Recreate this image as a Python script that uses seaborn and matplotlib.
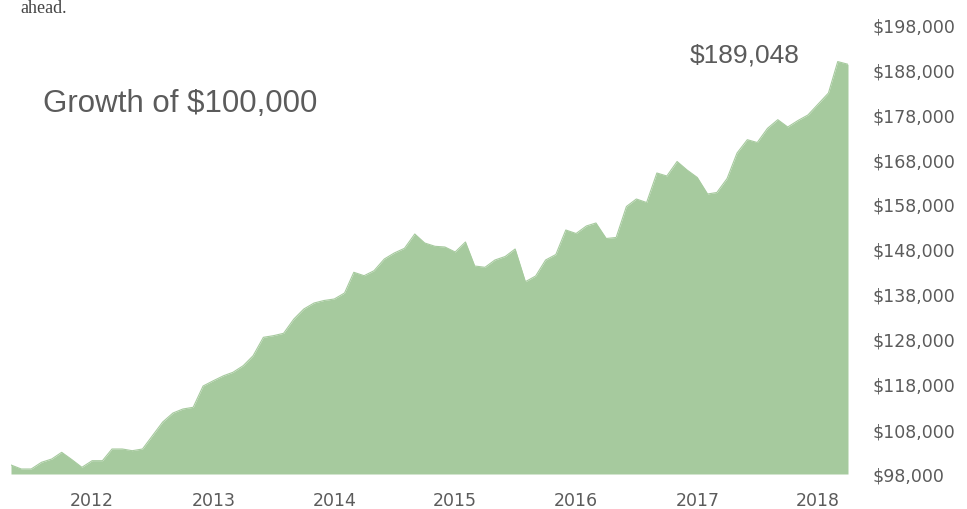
import matplotlib
matplotlib.use("Agg")
import matplotlib.pyplot as plt
import matplotlib.ticker as mticker
import pandas as pd
import seaborn as sns

# Month-end portfolio value of a $100,000 investment, May 2011 - Apr 2018
start_month = "2011-05-01"
portfolio_values = [
    100000, 99111, 99111, 100600, 101333, 102822, 101178, 99489, 100956, 100956,
    103556, 103556, 103178, 103556, 106511, 109556, 111556, 112444, 112822, 117556,
    118733, 119844, 120600, 122067, 124289, 128378, 128733, 129267, 132444, 134667,
    136000, 136556, 136889, 138222, 142822, 142067, 143178, 145778, 147111, 148156,
    151333, 149333, 148600, 148444, 147333, 149556, 144222, 143933, 145556, 146333,
    148000, 140733, 142000, 145556, 146778, 152222, 151444, 153111, 153778, 150333,
    150556, 157444, 159111, 158333, 164889, 164222, 167444, 165556, 163889, 160222,
    160556, 163667, 169333, 172289, 171667, 174822, 176733, 175111, 176556, 177778,
    180222, 182667, 189650, 189048,
]
year_labels = ["2012", "2013", "2014", "2015", "2016", "2017", "2018"]
y_ticks = [98000, 108000, 118000, 128000, 138000, 148000, 158000,
           168000, 178000, 188000, 198000]
title_text = "Growth of $100,000"

months = pd.date_range(start_month, periods=len(portfolio_values), freq="MS")
df = pd.DataFrame({"month": months, "value": portfolio_values})

sns.set_theme(style="white")
plt.rcParams["font.family"] = ["DejaVu Sans"]

fill_color = "#a6ca9e"
text_color = "#5b5b5b"

fig = plt.figure(figsize=(9.67, 5.10), dpi=100)
ax = fig.add_axes([11 / 967, 35 / 510, 837 / 967, 450 / 510])

ax.fill_between(df["month"], df["value"], y_ticks[0], color=fill_color,
                linewidth=0, zorder=1)
sns.lineplot(data=df, x="month", y="value", ax=ax, color=fill_color,
             linewidth=0.8, zorder=2)

ax.set_xlim(months[0], months[-1])
ax.set_ylim(y_ticks[0], y_ticks[-1])

# Year ticks on 1 January
ax.set_xticks([pd.Timestamp(f"{y}-01-01") for y in year_labels])
ax.set_xticklabels(year_labels)
ax.yaxis.tick_right()
ax.set_yticks(y_ticks)
ax.yaxis.set_major_formatter(mticker.FuncFormatter(lambda v, p: f"${v:,.0f}"))

ax.tick_params(axis="both", length=0, labelsize=12.5, labelcolor=text_color)
ax.tick_params(axis="y", pad=18)
ax.tick_params(axis="x", pad=12)
for lbl in ax.get_yticklabels():
    lbl.set_horizontalalignment("left")

ax.set_xlabel("")
ax.set_ylabel("")
for s in ax.spines.values():
    s.set_visible(False)

# Chart heading and final value callout
fig.text(43 / 967, 1 - 112 / 510, title_text, fontsize=22.5,
         family=["Liberation Sans", "DejaVu Sans"], color=text_color,
         ha="left", va="baseline")
fig.text(745 / 967, 1 - 63 / 510, f"${portfolio_values[-1]:,}", fontsize=19,
         family=["Liberation Sans", "DejaVu Sans"], color=text_color,
         ha="center", va="baseline")

# Tail of the paragraph sitting above the chart
fig.text(67 / 967, 1 - 13 / 510, "ahead.", fontsize=13,
         family=["Liberation Serif", "DejaVu Serif"], color="#444444",
         ha="right", va="baseline")

fig.savefig("out.png", dpi=100, facecolor="white")
